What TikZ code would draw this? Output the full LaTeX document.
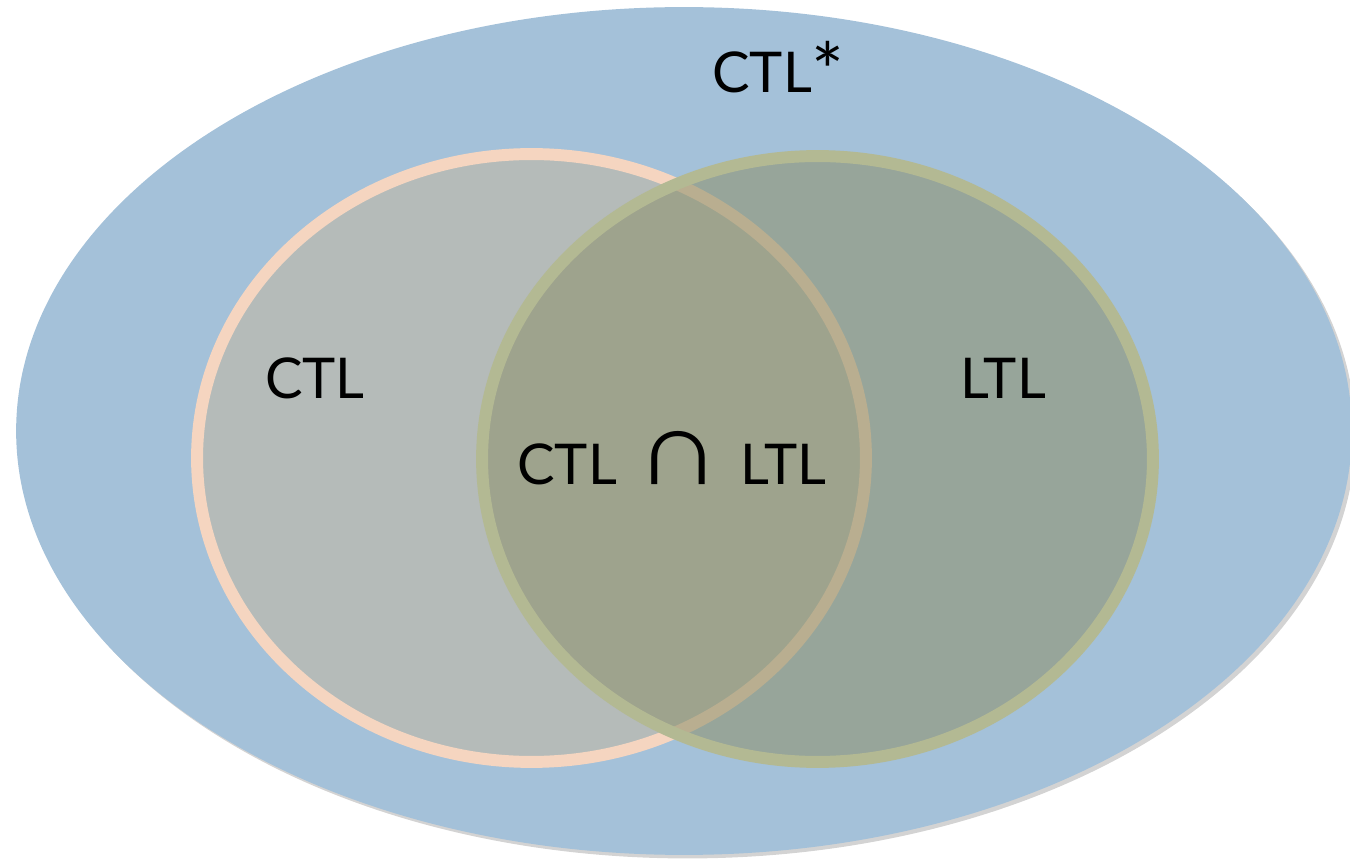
\documentclass[tikz,border=0pt]{standalone}
\usepackage{fontspec}
\setmainfont{Lato}
\newfontfamily\symfont{Liberation Sans}
\usepackage{tikz}
\usetikzlibrary{shapes.geometric, shadows}
\definecolor{skyfill}{HTML}{A4C1D9}
\definecolor{ctlfill}{HTML}{B5BBB9}
\definecolor{ctlrim}{HTML}{F5D5C0}
\definecolor{ltlfill}{HTML}{8E926E}
\definecolor{ltlrim}{HTML}{B3B993}
\tikzset{
  region/.style={ellipse, inner sep=0pt, outer sep=0pt},
  setlab/.style={font=\fontsize{32}{38}\selectfont, text=black, inner sep=0pt}
}
\newcommand{\bigstar}{\raisebox{-3.5pt}{\fontsize{44}{44}\selectfont *}}
\newcommand{\meet}{{\symfont\fontsize{40}{40}\selectfont\scalebox{1.7}[1.5]{∩}}}
\begin{document}
\begin{tikzpicture}[x=0.02cm, y=-0.02cm]
  \useasboundingbox (0,0) rectangle (1350,861);
  % outer set CTL*
  \node[region, fill=skyfill, minimum width=26.72cm, minimum height=16.96cm,
        drop shadow={shadow xshift=2pt, shadow yshift=-2pt, opacity=0.35}] (star) at (684,431) {};
  % CTL and LTL
  \node[region, fill=ctlfill, draw=ctlrim, line width=6.8pt, minimum width=13.38cm, minimum height=12.16cm,
        drop shadow={shadow xshift=1.5pt, shadow yshift=-1.5pt, opacity=0.25}] (ctl) at (531.5,458) {};
  \node[region, fill=ltlfill, fill opacity=0.58, draw=ltlrim, line width=6.8pt, minimum width=13.42cm, minimum height=12.12cm] (ltl) at (817.5,459) {};
  % labels
  \node[setlab, anchor=base west] (starlab) at (712,93) {CTL\bigstar};
  \node[setlab, anchor=base] (ctllab) at (315,399) {CTL};
  \node[setlab, anchor=base] (ltllab) at (1003,399) {LTL};
  \node[setlab, anchor=base] (bothlab) at (672,485) {CTL\hspace{0.36cm}\meet\hspace{0.4cm}LTL};
\end{tikzpicture}
\end{document}
